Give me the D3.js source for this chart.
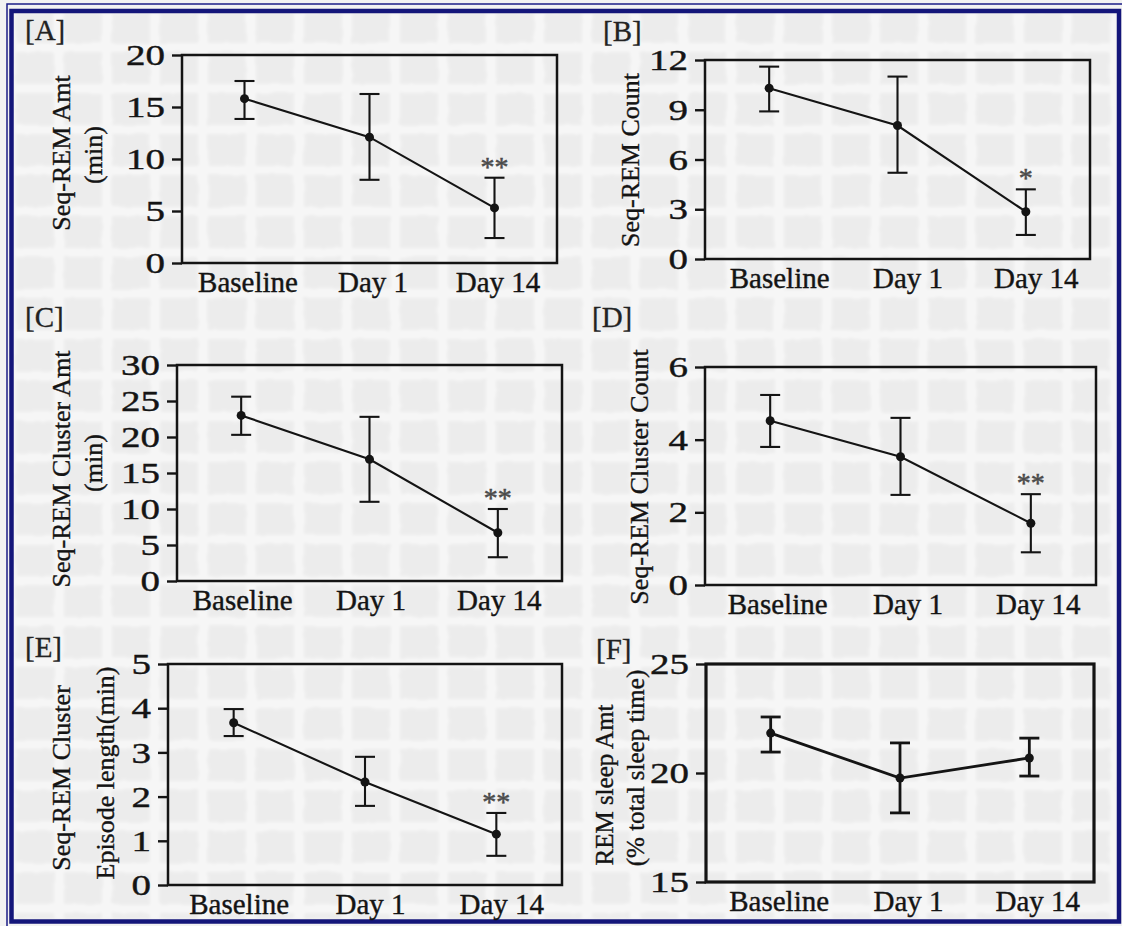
<!DOCTYPE html>
<html>
<head>
<meta charset="utf-8">
<script src="https://cdn.jsdelivr.net/npm/d3@7"></script>
<style>
  body { margin: 0; background: #fff; }
  svg { display: block; }
</style>
</head>
<body>
<script>
// x categories, shared by every panel
let categories = ['Baseline', 'Day 1', 'Day 14'];

// [A] Seq-REM amount (min)
let seqRemAmt = [15.8, 12.1, 5.3];
let seqRemAmtLow = [13.85, 8.0, 2.4];
let seqRemAmtHigh = [17.5, 16.25, 8.2];
let seqRemAmtTicks = [0, 5, 10, 15, 20];

// [B] Seq-REM count
let seqRemCount = [10.3, 8.05, 2.85];
let seqRemCountLow = [8.9, 5.2, 1.45];
let seqRemCountHigh = [11.6, 11.0, 4.2];
let seqRemCountTicks = [0, 3, 6, 9, 12];

// [C] Seq-REM cluster amount (min)
let clusterAmt = [23.0, 16.9, 6.7];
let clusterAmtLow = [20.3, 11.0, 3.3];
let clusterAmtHigh = [25.6, 22.8, 10.0];
let clusterAmtTicks = [0, 5, 10, 15, 20, 25, 30];

// [D] Seq-REM cluster count
let clusterCount = [4.52, 3.53, 1.7];
let clusterCountLow = [3.8, 2.48, 0.9];
let clusterCountHigh = [5.23, 4.6, 2.5];
let clusterCountTicks = [0, 2, 4, 6];

// [E] Seq-REM cluster episode length (min)
let episodeLen = [3.67, 2.33, 1.15];
let episodeLenLow = [3.37, 1.79, 0.66];
let episodeLenHigh = [3.98, 2.9, 1.63];
let episodeLenTicks = [0, 1, 2, 3, 4, 5];

// [F] REM sleep amount (% total sleep time)
let remPct = [21.83, 19.77, 20.69];
let remPctLow = [20.96, 18.17, 19.86];
let remPctHigh = [22.57, 21.38, 21.6];
let remPctTicks = [15, 20, 25];

let serif = '"Liberation Serif", "DejaVu Serif", serif';
let ink = '#141414';

let svg = d3.select('body').append('svg').attr('width', 1122).attr('height', 926);

// textured paper background (soft, slightly wobbly grid)
let defs = svg.append('defs');
let pat = defs.append('pattern').attr('id', 'paper').attr('patternUnits', 'userSpaceOnUse')
    .attr('width', 48).attr('height', 41).attr('x', 6).attr('y', 2);
pat.append('rect').attr('width', 48).attr('height', 41).attr('fill', '#ececec');
pat.append('rect').attr('x', 0).attr('y', 0).attr('width', 10).attr('height', 41).attr('fill', '#f6f6f6');
pat.append('rect').attr('x', 0).attr('y', 0).attr('width', 48).attr('height', 9).attr('fill', '#f6f6f6');
let soft = defs.append('filter').attr('id', 'soft').attr('x', 0).attr('y', 0).attr('width', 1).attr('height', 1);
soft.append('feTurbulence').attr('type', 'fractalNoise').attr('baseFrequency', 0.06).attr('numOctaves', 2)
    .attr('seed', 3).attr('result', 'noise');
soft.append('feDisplacementMap').attr('in', 'SourceGraphic').attr('in2', 'noise').attr('scale', 4)
    .attr('xChannelSelector', 'R').attr('yChannelSelector', 'G').attr('result', 'wob');
soft.append('feGaussianBlur').attr('in', 'wob').attr('stdDeviation', 1.6);

svg.append('rect').attr('width', 1122).attr('height', 926).attr('fill', '#f2f2f2');
svg.append('rect').attr('x', 13).attr('y', 13).attr('width', 1104).attr('height', 906)
    .attr('fill', 'url(#paper)').attr('filter', 'url(#soft)');

// navy frame
svg.append('rect').attr('x', 7).attr('y', 4).attr('width', 1118).attr('height', 930)
    .attr('fill', 'none').attr('stroke', '#1b1d86').attr('stroke-width', 1.5);
svg.append('rect').attr('x', 11.5).attr('y', 11).attr('width', 1107.5).attr('height', 910.5)
    .attr('fill', 'none').attr('stroke', '#14167a').attr('stroke-width', 4.5);

let panels = [
  {tag: '[A]', tagX: 25, tagY: 40, left: 182, right: 557, top: 55, bottom: 263, domain: [0, 20],
   ticks: seqRemAmtTicks, mean: seqRemAmt, low: seqRemAmtLow, high: seqRemAmtHigh, stars: ['', '', '**'],
   labels: [{t: 'Seq-REM Amt', x: 70, y: 153}, {t: '(min)', x: 102, y: 155}], shift: 3},
  {tag: '[B]', tagX: 603, tagY: 41, left: 705, right: 1090, top: 60, bottom: 259, domain: [0, 12],
   ticks: seqRemCountTicks, mean: seqRemCount, low: seqRemCountLow, high: seqRemCountHigh, stars: ['', '', '*'],
   labels: [{t: 'Seq-REM Count', x: 639, y: 160}], shift: 10},
  {tag: '[C]', tagX: 25, tagY: 327, left: 177, right: 562, top: 365, bottom: 581, domain: [0, 30],
   ticks: clusterAmtTicks, mean: clusterAmt, low: clusterAmtLow, high: clusterAmtHigh, stars: ['', '', '**'],
   labels: [{t: 'Seq-REM Cluster Amt', x: 70, y: 469}, {t: '(min)', x: 102, y: 463}], shift: 1},
  {tag: '[D]', tagX: 592, tagY: 327, left: 705, right: 1096, top: 367, bottom: 585, domain: [0, 6],
   ticks: clusterCountTicks, mean: clusterCount, low: clusterCountLow, high: clusterCountHigh, stars: ['', '', '**'],
   labels: [{t: 'Seq-REM Cluster Count', x: 648, y: 477}], shift: 7},
  {tag: '[E]', tagX: 25, tagY: 657, left: 168, right: 562, top: 664, bottom: 885, domain: [0, 5],
   ticks: episodeLenTicks, mean: episodeLen, low: episodeLenLow, high: episodeLenHigh, stars: ['', '', '**'],
   labels: [{t: 'Seq-REM Cluster', x: 70, y: 778}, {t: 'Episode length(min)', x: 114, y: 773}], shift: 5},
  {tag: '[F]', tagX: 596, tagY: 659, left: 706, right: 1094, top: 664, bottom: 882, domain: [15, 25],
   ticks: remPctTicks, mean: remPct, low: remPctLow, high: remPctHigh, stars: ['', '', ''],
   labels: [{t: 'REM sleep Amt', x: 613, y: 785}, {t: '(% total sleep time)', x: 644, y: 768}], shift: 8,
   heavy: true}
];

let stretch = 1.3; // tick numbers in the source are set wide

panels.forEach(function(p) {
  let g = svg.append('g');
  let x = d3.scalePoint().domain(categories).range([p.left, p.right]).padding(0.5);
  let y = d3.scaleLinear().domain(p.domain).range([p.bottom, p.top]);
  let lw = p.heavy ? 2.8 : 2.1;

  g.append('rect').attr('x', p.left).attr('y', p.top)
      .attr('width', p.right - p.left).attr('height', p.bottom - p.top)
      .attr('fill', 'none').attr('stroke', ink).attr('stroke-width', p.heavy ? 3.2 : 2.5);

  let ya = g.append('g').attr('transform', 'translate(' + p.left + ',0)')
      .call(d3.axisLeft(y).tickValues(p.ticks).tickSize(10).tickPadding(7).tickFormat(d3.format('d')))
      .attr('font-family', serif).attr('font-size', 30);
  ya.select('.domain').remove();
  ya.selectAll('line').attr('stroke', ink).attr('stroke-width', 2.4);
  ya.selectAll('text').attr('fill', ink).attr('stroke', ink).attr('stroke-width', 0.4)
      .attr('x', -17 / stretch).attr('transform', 'scale(' + stretch + ',1)');

  let xa = g.append('g').attr('transform', 'translate(0,' + p.bottom + ')')
      .call(d3.axisBottom(x).tickSize(0).tickPadding(8))
      .attr('font-family', serif).attr('font-size', 29);
  xa.select('.domain').remove();
  xa.selectAll('text').attr('fill', ink).attr('stroke', ink).attr('stroke-width', 0.4).attr('dx', p.shift);

  let rows = categories.map(function(c, i) {
    return {cat: c, v: p.mean[i], lo: p.low[i], hi: p.high[i], star: p.stars[i]};
  });

  // error bars
  let eb = g.selectAll('.eb').data(rows).enter().append('g').attr('stroke', ink).attr('stroke-width', lw);
  eb.append('line').attr('x1', d => x(d.cat)).attr('x2', d => x(d.cat))
      .attr('y1', d => y(d.lo)).attr('y2', d => y(d.hi));
  eb.append('line').attr('x1', d => x(d.cat) - 10).attr('x2', d => x(d.cat) + 10)
      .attr('y1', d => y(d.hi)).attr('y2', d => y(d.hi));
  eb.append('line').attr('x1', d => x(d.cat) - 10).attr('x2', d => x(d.cat) + 10)
      .attr('y1', d => y(d.lo)).attr('y2', d => y(d.lo));

  let line = d3.line().x(d => x(d.cat)).y(d => y(d.v));
  g.append('path').datum(rows).attr('d', line)
      .attr('fill', 'none').attr('stroke', ink).attr('stroke-width', lw);

  g.selectAll('.pt').data(rows).enter().append('circle')
      .attr('cx', d => x(d.cat)).attr('cy', d => y(d.v)).attr('r', 4.5).attr('fill', ink);

  g.selectAll('.star').data(rows.filter(d => d.star)).enter().append('text')
      .attr('x', d => x(d.cat)).attr('y', d => y(d.hi) - 2)
      .attr('text-anchor', 'middle').attr('font-family', serif).attr('font-size', 28)
      .attr('fill', '#4a4a4a').attr('stroke', '#4a4a4a').attr('stroke-width', 0.5).text(d => d.star);

  g.append('text').attr('x', p.tagX).attr('y', p.tagY)
      .attr('font-family', serif).attr('font-size', 29).attr('fill', '#222')
      .attr('stroke', '#222').attr('stroke-width', 0.3).text(p.tag);

  g.selectAll('.ylab').data(p.labels).enter().append('text')
      .attr('transform', d => 'translate(' + d.x + ',' + d.y + ') rotate(-90)')
      .attr('text-anchor', 'middle').attr('font-family', serif)
      .attr('font-size', p.heavy ? 25 : 26).attr('fill', ink)
      .attr('stroke', ink).attr('stroke-width', 0.35).text(d => d.t);
});
</script>
</body>
</html>
